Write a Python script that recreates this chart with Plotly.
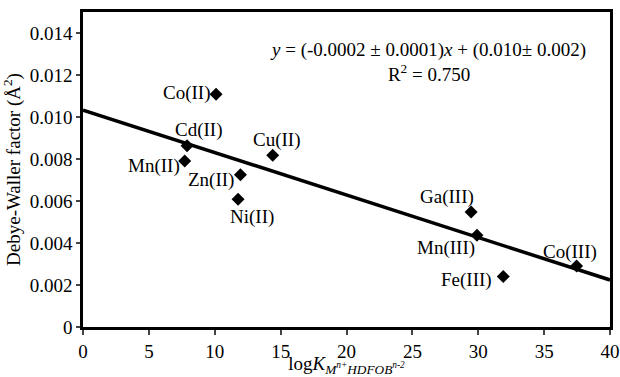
import plotly.graph_objects as go

labels = ["Co(II)", "Cd(II)", "Mn(II)", "Cu(II)", "Zn(II)", "Ni(II)", "Ga(III)", "Mn(III)", "Fe(III)", "Co(III)"]
logK = [10.1, 7.9, 7.72, 14.4, 11.95, 11.77, 29.46, 29.9, 31.9, 37.46]
dw = [0.01108, 0.00863, 0.0079, 0.00818, 0.00725, 0.00608, 0.00548, 0.00437, 0.0024, 0.0029]

fit_x = [0, 40]
fit_y = [0.01033, 0.00224]

x_ticks = [0, 5, 10, 15, 20, 25, 30, 35, 40]
y_ticks = [0, 0.002, 0.004, 0.006, 0.008, 0.010, 0.012, 0.014]
y_ticktext = ["0", "0.002", "0.004", "0.006", "0.008", "0.010", "0.012", "0.014"]

# label placement (anchor, pixel offsets) -- styling only
label_style = [
    ("right", -4, 1), ("center", 11, 16), ("right", -3, -5), ("center", 4, 15),
    ("right", -4, -5), ("center", 14, -18), ("center", -24, 15), ("center", -31, -13),
    ("right", -9, -3), ("center", -7, 14),
]

FONT = "Liberation Serif"
FS = 19

fig = go.Figure()
fig.add_trace(go.Scatter(x=fit_x, y=fit_y, mode="lines",
                         line=dict(color="black", width=3.5), hoverinfo="skip"))
fig.add_trace(go.Scatter(x=logK, y=dw, mode="markers",
                         marker=dict(symbol="diamond", size=10, color="black")))

for lab, xv, yv, (anc, dx, dy) in zip(labels, logK, dw, label_style):
    fig.add_annotation(x=xv, y=yv, text=lab, showarrow=False, xanchor=anc, yanchor="middle",
                       xshift=dx, yshift=dy, font=dict(family=FONT, size=FS, color="black"))

fig.add_annotation(x=0.655, y=0.84, xref="paper", yref="paper", xanchor="center", yanchor="middle",
                   showarrow=False, align="center",
                   text="<i>y</i> = (-0.0002 ± 0.0001)<i>x</i> + (0.010± 0.002)<br>R<sup>2</sup> = 0.750",
                   font=dict(family=FONT, size=19, color="black"))

fig.update_layout(
    width=620, height=377,
    margin=dict(l=83, r=10, t=12, b=50),
    paper_bgcolor="white", plot_bgcolor="white",
    showlegend=False,
    font=dict(family=FONT, size=FS, color="black"),
    xaxis=dict(range=[0, 40], tickvals=x_ticks, ticks="outside", ticklen=5, tickwidth=2,
               showline=True, linecolor="black", linewidth=2.5, mirror=True,
               showgrid=False, zeroline=False, automargin=False, ticklabeloverflow="allow",
               title=dict(text="log<i>K</i><sub><i>M<sup>n+</sup>HDFOB<sup>n-2</sup></i></sub>",
                          font=dict(family=FONT, size=19))),
    yaxis=dict(range=[0, 0.015], tickvals=y_ticks, ticktext=y_ticktext, ticks="outside",
               ticklen=4, tickwidth=2,
               showline=True, linecolor="black", linewidth=2.5, mirror=True,
               showgrid=False, zeroline=False, automargin=False, ticklabeloverflow="allow",
               title=dict(text="Debye-Waller factor (Å<sup>2</sup>)",
                          font=dict(family=FONT, size=19))),
)

fig.write_html("out.html")
